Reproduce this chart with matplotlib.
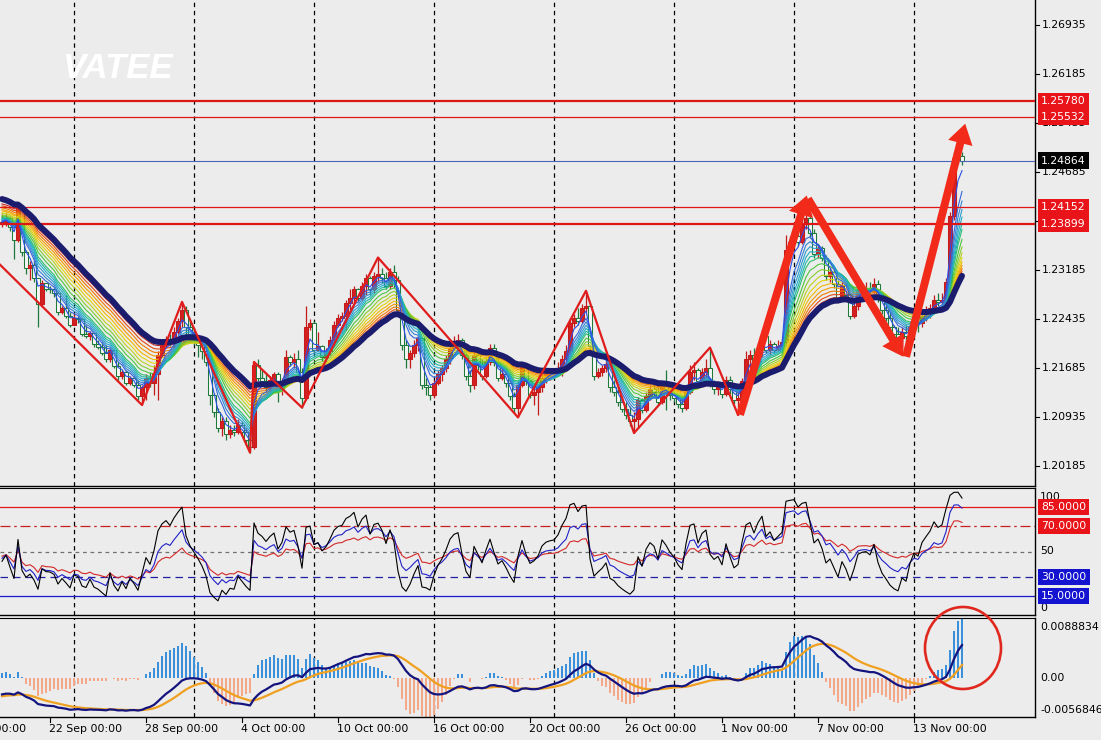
import numpy as np
import matplotlib
matplotlib.use("Agg")
import matplotlib.pyplot as plt
from matplotlib.patches import Ellipse, FancyArrowPatch, ArrowStyle
from matplotlib.lines import Line2D
from matplotlib.transforms import blended_transform_factory

# ---------------- data (H4 candles) ----------------
open_first = 1.2391
close = [
    1.2393, 1.2399, 1.2384, 1.2365, 1.2416, 1.2347, 1.2322, 1.2327, 1.2307, 1.2266,
    1.2299, 1.2290, 1.2289, 1.2283, 1.2255, 1.2261, 1.2249, 1.2234, 1.2246, 1.2243,
    1.2221, 1.2217, 1.2223, 1.2206, 1.2201, 1.2192, 1.2182, 1.2197, 1.2172, 1.2156,
    1.2163, 1.2146, 1.2154, 1.2143, 1.2126, 1.2139, 1.2154, 1.2145, 1.2159, 1.2189,
    1.2204, 1.2212, 1.2208, 1.2224, 1.2240, 1.2258, 1.2232, 1.2220, 1.2212, 1.2204,
    1.2194, 1.2178, 1.2128, 1.2102, 1.2077, 1.2088, 1.2068, 1.2074, 1.2071, 1.2082,
    1.2071, 1.2059, 1.2048, 1.2174, 1.2154, 1.2148, 1.2139, 1.2151, 1.2159, 1.2136,
    1.2148, 1.2185, 1.2178, 1.2182, 1.2163, 1.2123, 1.2232, 1.2237, 1.2197, 1.2203,
    1.2185, 1.2194, 1.2212, 1.2235, 1.2246, 1.2249, 1.2269, 1.2276, 1.2289, 1.2276,
    1.2295, 1.2307, 1.2289, 1.2310, 1.2313, 1.2307, 1.2295, 1.2316, 1.2304, 1.2258,
    1.2204, 1.2182, 1.2191, 1.2204, 1.2215, 1.2143, 1.2139, 1.2128, 1.2146, 1.2160,
    1.2169, 1.2182, 1.2200, 1.2209, 1.2212, 1.2188, 1.2157, 1.2142, 1.2189, 1.2174,
    1.2157, 1.2178, 1.2200, 1.2178, 1.2154, 1.2159, 1.2145, 1.2126, 1.2108, 1.2143,
    1.2174, 1.2148, 1.2128, 1.2132, 1.2139, 1.2154, 1.2160, 1.2162, 1.2163, 1.2169,
    1.2182, 1.2194, 1.2238, 1.2246, 1.2240, 1.2261, 1.2264, 1.2203, 1.2157, 1.2163,
    1.2168, 1.2175, 1.2139, 1.2132, 1.2117, 1.2106, 1.2096, 1.2087, 1.2090, 1.2120,
    1.2105, 1.2126, 1.2136, 1.2132, 1.2117, 1.2142, 1.2136, 1.2128, 1.2123, 1.2114,
    1.2108, 1.2132, 1.2163, 1.2166, 1.2148, 1.2163, 1.2169, 1.2143, 1.2136, 1.2139,
    1.2129, 1.2151, 1.2136, 1.2120, 1.2123, 1.2148, 1.2182, 1.2188, 1.2178, 1.2200,
    1.2218, 1.2197, 1.2206, 1.2197, 1.2203, 1.2209, 1.2350, 1.2362, 1.2371, 1.2362,
    1.2390, 1.2399, 1.2375, 1.2344, 1.2353, 1.2338, 1.2310, 1.2316, 1.2298, 1.2276,
    1.2296, 1.2280, 1.2249, 1.2264, 1.2286, 1.2289, 1.2290, 1.2286, 1.2298, 1.2276,
    1.2258, 1.2246, 1.2231, 1.2221, 1.2215, 1.2224, 1.2218, 1.2231, 1.2240, 1.2237,
    1.2249, 1.2255, 1.2261, 1.2273, 1.2270, 1.2273, 1.2301, 1.2402, 1.2491, 1.2494,
    1.24864,
]
high = [
    1.2404, 1.2408, 1.2402, 1.2390, 1.2422, 1.2419, 1.2350, 1.2332, 1.2332, 1.2307,
    1.2304, 1.2298, 1.2295, 1.2292, 1.2286, 1.2264, 1.2281, 1.2255, 1.2252, 1.2249,
    1.2246, 1.2234, 1.2226, 1.2223, 1.2212, 1.2208, 1.2204, 1.2200, 1.2197, 1.2178,
    1.2166, 1.2165, 1.2157, 1.2156, 1.2151, 1.2142, 1.2159, 1.2163, 1.2174, 1.2194,
    1.2212, 1.2218, 1.2221, 1.2231, 1.2246, 1.2270, 1.2264, 1.2240, 1.2227, 1.2220,
    1.2212, 1.2200, 1.2189, 1.2131, 1.2108, 1.2093, 1.2093, 1.2082, 1.2082, 1.2090,
    1.2087, 1.2077, 1.2065, 1.2178, 1.2182, 1.2166, 1.2159, 1.2156, 1.2163, 1.2163,
    1.2154, 1.2197, 1.2189, 1.2191, 1.2197, 1.2169, 1.2263, 1.2243, 1.2240, 1.2224,
    1.2204, 1.2200, 1.2217, 1.2240, 1.2252, 1.2255, 1.2273, 1.2289, 1.2295, 1.2292,
    1.2301, 1.2312, 1.2310, 1.2316, 1.2338, 1.2322, 1.2316, 1.2322, 1.2326, 1.2310,
    1.2266, 1.2212, 1.2197, 1.2212, 1.2220, 1.2215, 1.2154, 1.2143, 1.2151, 1.2166,
    1.2174, 1.2188, 1.2204, 1.2218, 1.2221, 1.2215, 1.2197, 1.2166, 1.2194, 1.2197,
    1.2182, 1.2185, 1.2206, 1.2206, 1.2185, 1.2169, 1.2163, 1.2148, 1.2132, 1.2148,
    1.2178, 1.2175, 1.2151, 1.2143, 1.2143, 1.2159, 1.2166, 1.2169, 1.2169, 1.2178,
    1.2188, 1.2204, 1.2246, 1.2252, 1.2261, 1.2267, 1.2287, 1.2267, 1.2209, 1.2169,
    1.2174, 1.2182, 1.2178, 1.2151, 1.2139, 1.2126, 1.2117, 1.2111, 1.2102, 1.2125,
    1.2123, 1.2132, 1.2142, 1.2143, 1.2139, 1.2148, 1.2166, 1.2142, 1.2136, 1.2126,
    1.2123, 1.2139, 1.2174, 1.2178, 1.2169, 1.2169, 1.2182, 1.2200, 1.2151, 1.2148,
    1.2143, 1.2157, 1.2156, 1.2143, 1.2132, 1.2154, 1.2194, 1.2197, 1.2200, 1.2204,
    1.2224, 1.2221, 1.2212, 1.2209, 1.2212, 1.2215, 1.2373, 1.2371, 1.2384, 1.2387,
    1.2399, 1.2430, 1.2402, 1.2381, 1.2359, 1.2356, 1.2342, 1.2322, 1.2322, 1.2304,
    1.2301, 1.2301, 1.2283, 1.2273, 1.2292, 1.2298, 1.2301, 1.2301, 1.2307, 1.2304,
    1.2281, 1.2270, 1.2255, 1.2235, 1.2231, 1.2231, 1.2234, 1.2240, 1.2246, 1.2249,
    1.2255, 1.2264, 1.2267, 1.2280, 1.2283, 1.2283, 1.2307, 1.2408, 1.2500, 1.2502,
    1.2500,
]
low = [
    1.2384, 1.2387, 1.2378, 1.2335, 1.2362, 1.2341, 1.2313, 1.2304, 1.2301, 1.2232,
    1.2263, 1.2286, 1.2283, 1.2278, 1.2250, 1.2252, 1.2246, 1.2231, 1.2234, 1.2238,
    1.2217, 1.2214, 1.2211, 1.2201, 1.2198, 1.2189, 1.2178, 1.2178, 1.2168, 1.2151,
    1.2152, 1.2143, 1.2143, 1.2139, 1.2120, 1.2112, 1.2120, 1.2139, 1.2128, 1.2120,
    1.2186, 1.2200, 1.2203, 1.2200, 1.2221, 1.2231, 1.2218, 1.2212, 1.2204, 1.2185,
    1.2182, 1.2172, 1.2112, 1.2094, 1.2071, 1.2064, 1.2059, 1.2062, 1.2064, 1.2068,
    1.2065, 1.2053, 1.2039, 1.2044, 1.2148, 1.2143, 1.2132, 1.2131, 1.2148, 1.2116,
    1.2128, 1.2145, 1.2172, 1.2169, 1.2154, 1.2108, 1.2120, 1.2227, 1.2192, 1.2194,
    1.2180, 1.2178, 1.2189, 1.2204, 1.2231, 1.2240, 1.2227, 1.2258, 1.2267, 1.2270,
    1.2273, 1.2281, 1.2281, 1.2283, 1.2301, 1.2299, 1.2289, 1.2289, 1.2292, 1.2250,
    1.2197, 1.2169, 1.2169, 1.2185, 1.2194, 1.2136, 1.2128, 1.2120, 1.2123, 1.2142,
    1.2148, 1.2163, 1.2175, 1.2197, 1.2200, 1.2182, 1.2151, 1.2132, 1.2136, 1.2166,
    1.2151, 1.2154, 1.2174, 1.2172, 1.2148, 1.2151, 1.2139, 1.2120, 1.2102, 1.2093,
    1.2139, 1.2142, 1.2122, 1.2112, 1.2096, 1.2132, 1.2145, 1.2151, 1.2154, 1.2157,
    1.2157, 1.2174, 1.2188, 1.2231, 1.2234, 1.2237, 1.2255, 1.2197, 1.2151, 1.2154,
    1.2157, 1.2162, 1.2132, 1.2126, 1.2111, 1.2102, 1.2090, 1.2080, 1.2069, 1.2077,
    1.2099, 1.2102, 1.2120, 1.2123, 1.2112, 1.2114, 1.2105, 1.2120, 1.2117, 1.2108,
    1.2102, 1.2105, 1.2129, 1.2151, 1.2143, 1.2145, 1.2143, 1.2139, 1.2129, 1.2128,
    1.2123, 1.2126, 1.2129, 1.2114, 1.2097, 1.2120, 1.2143, 1.2169, 1.2172, 1.2175,
    1.2185, 1.2192, 1.2189, 1.2191, 1.2194, 1.2197, 1.2203, 1.2332, 1.2356, 1.2356,
    1.2359, 1.2381, 1.2368, 1.2338, 1.2338, 1.2332, 1.2304, 1.2301, 1.2292, 1.2270,
    1.2273, 1.2273, 1.2243, 1.2246, 1.2258, 1.2277, 1.2278, 1.2280, 1.2283, 1.2270,
    1.2252, 1.2240, 1.2224, 1.2215, 1.2209, 1.2189, 1.2209, 1.2212, 1.2218, 1.2224,
    1.2231, 1.2240, 1.2246, 1.2255, 1.2264, 1.2266, 1.2270, 1.2289, 1.2396, 1.2482,
    1.2480,
]

# time axis labels (bar index of each label) and weekly separators
x_labels = ["18 Sep 00:00", "22 Sep 00:00", "28 Sep 00:00", "4 Oct 00:00", "10 Oct 00:00",
            "16 Oct 00:00", "20 Oct 00:00", "26 Oct 00:00", "1 Nov 00:00", "7 Nov 00:00",
            "13 Nov 00:00"]
x_label_bars = [-12, 12, 36, 60, 84, 108, 132, 156, 180, 204, 228]
separator_bars = [18, 48, 78, 108, 138, 168, 198, 228]

price_ticks = [1.26935, 1.26185, 1.25435, 1.24685, 1.23935, 1.23185,
               1.22435, 1.21685, 1.20935, 1.20185]
level_prices = [1.25780, 1.25532, 1.24152, 1.23899]
level_thick = [True, False, False, True]
bid_price = 1.24864

zigzag_bars = [-0.5, 35, 45, 62, 63, 75, 94, 129, 146, 158, 177, 184]
zigzag_prices = [1.2327, 1.2112, 1.2270, 1.2039, 1.2178, 1.2108, 1.2338,
                 1.2093, 1.2287, 1.2069, 1.2200, 1.2097]

arrow_tail_bars = [184.5, 201.5, 226.0]
arrow_tail_prices = [1.2097, 1.2428, 1.2186]
arrow_tip_bars = [201.2, 225.3, 240.8]
arrow_tip_prices = [1.2433, 1.2186, 1.2543]

# moving-average ribbon (fast -> slow) with values at the left edge
ribbon_periods = [3, 5, 6, 7, 8, 9, 10, 12, 14, 16, 18, 20, 22, 24, 26, 28]
ribbon_start = [1.2391, 1.2393, 1.2394, 1.2396, 1.2397, 1.2399, 1.2400, 1.2402,
                1.2404, 1.2407, 1.2408, 1.2411, 1.2413, 1.2416, 1.2419, 1.2422]
ribbon_colors = ['#2a4fe6', '#3468dc', '#3386d4', '#2a9ed0', '#22aec8', '#1fb8a6',
                 '#2cbf6c', '#4ac63c', '#86cc2c', '#bcd11e', '#e2d20e', '#f2b800',
                 '#f29a00', '#f07a00', '#e24a16', '#c82a22']
slow_period = 30
slow_start = 1.2430

# oscillator (RSI 6/12/24) levels and seeds
rsi_periods = [6, 12, 24]
rsi_colors = ['#000000', '#2020c8', '#d42828']
rsi_seed_gain = [0.00055, 0.00050, 0.00050]
rsi_seed_loss = [0.00075, 0.00062, 0.00058]
osc_levels = [85, 70, 50, 30, 15]

# MACD
macd_fast, macd_slow, macd_sig = 12, 26, 9
macd_fast_start, macd_slow_start, macd_sig_start = 1.2410, 1.2434, -0.0027
macd_min, macd_max = -0.0056846, 0.0088834
hist_scale = 3.0

# ---------------- helpers ----------------
def ema(values, period, start):
    a = 2.0 / (period + 1)
    out, e = [], start
    for v in values:
        e = e + a * (v - e)
        out.append(e)
    return np.array(out)

def wilder_rsi(values, n, g0, l0):
    out = [100 * g0 / (g0 + l0)]
    g, l = g0, l0
    for k in range(1, len(values)):
        d = values[k] - values[k - 1]
        g = g + (max(d, 0) - g) / n
        l = l + (max(-d, 0) - l) / n
        out.append(100 * g / (g + l))
    return np.array(out)

c = np.array(close)
o = np.array([open_first] + close[:-1])
h = np.array(high)
lo = np.array(low)
idx = np.arange(len(c))

W, H = 1101, 740
BG = '#ececec'
FS = 7.8
fig = plt.figure(figsize=(W / 100, H / 100), dpi=100)
fig.patch.set_facecolor(BG)

def fy(py):
    return 1 - py / H

PLOT_R = 1035
ax = fig.add_axes([0, fy(486), PLOT_R / W, 486 / H])
ax2 = fig.add_axes([0, fy(615), PLOT_R / W, (615 - 488) / H])
ax3 = fig.add_axes([0, fy(717), PLOT_R / W, (717 - 618) / H])

xl = (-0.5, (PLOT_R - 2) / 4.0)
for a in (ax, ax2, ax3):
    a.set_facecolor(BG)
    a.set_xlim(*xl)
    a.set_xticks([])
    a.set_yticks([])
    for s in ('top', 'left'):
        a.spines[s].set_visible(False)
    a.spines['right'].set_color('black')
    a.spines['bottom'].set_color('black')
    a.spines['right'].set_linewidth(1.0)
    a.spines['bottom'].set_linewidth(1.0)
    for b in separator_bars:
        a.axvline(b, color='black', lw=0.9, ls=(0, (3.5, 3)), zorder=1)
for a in (ax2, ax3):
    a.spines['top'].set_visible(True)
    a.spines['top'].set_color('black')

ax.set_ylim(1.198787, 1.273257)
ax2.set_ylim(0, 100)
ax3.set_ylim(macd_min, macd_max)

# watermark
ax.text(117 / PLOT_R, 1 - 69 / 486, 'VATEE', transform=ax.transAxes, ha='center', va='center',
        fontsize=25, fontweight='heavy', fontstyle='italic', family='Liberation Sans',
        color='white', zorder=1)

# candles
bull = c >= o
edge = np.where(bull, '#c41a1a', '#1f7a3a')
face = np.where(bull, '#d42020', '#f6f6f6')
ax.vlines(idx, lo, h, colors=edge, lw=0.9, zorder=2)
body_lo = np.minimum(o, c)
body_h = np.maximum(np.abs(c - o), 0.00005)
ax.bar(idx, body_h, bottom=body_lo, width=0.76, color=face, edgecolor=edge,
       linewidth=0.75, zorder=3)

# ribbon and slow MA
for per, st, col in zip(ribbon_periods[::-1], ribbon_start[::-1], ribbon_colors[::-1]):
    ax.plot(idx, ema(c, per, st), color=col, lw=0.8, zorder=4)
ax.plot(idx, ema(c, slow_period, slow_start), color='#1c1c6e', lw=4.3,
        solid_capstyle='round', zorder=5)

# horizontal levels
for p, thick in zip(level_prices, level_thick):
    ax.axhline(p, color='#dd1616', lw=1.6 if thick else 0.9, zorder=4)
ax.axhline(bid_price, color='#4a66b8', lw=0.8, zorder=4)

# zigzag
ax.plot(zigzag_bars, zigzag_prices, color='#e01c1c', lw=1.6, zorder=6)

# arrows
style = ArrowStyle('Simple', head_length=0.75, head_width=0.95, tail_width=0.3)
for tb, tp, hb, hp in zip(arrow_tail_bars, arrow_tail_prices, arrow_tip_bars, arrow_tip_prices):
    ax.add_patch(FancyArrowPatch((tb, tp), (hb, hp), arrowstyle=style, mutation_scale=19,
                                 color='#f22a1a', lw=0, shrinkA=0, shrinkB=0, zorder=7))

# right-axis text for main panel
tr = blended_transform_factory(ax.transAxes, ax.transData)
def axfrac(px):
    return px / PLOT_R
for p in price_ticks:
    ax.text(axfrac(1042), p, f'{p:.5f}', transform=tr, ha='left', va='center',
            fontsize=FS, color='black', clip_on=False, zorder=8)
    ax.plot([1.0, axfrac(1039)], [p, p], transform=tr, color='black', lw=0.8, clip_on=False)

def box(a, trans, y, text, fc):
    a.text(axfrac(1041), y, text, transform=trans, ha='left', va='center', fontsize=FS,
           color='white', clip_on=False, zorder=10,
           bbox=dict(boxstyle='square,pad=0.3', fc=fc, ec='none'))

for p in level_prices:
    box(ax, tr, p, f'{p:.5f}', '#e8141a')
box(ax, tr, bid_price, f'{bid_price:.5f}', '#000000')

# ---------------- oscillator panel ----------------
for per, g0, l0, col in zip(rsi_periods[::-1], rsi_seed_gain[::-1], rsi_seed_loss[::-1], rsi_colors[::-1]):
    ax2.plot(idx, wilder_rsi(c, per, g0, l0), color=col, lw=0.8, zorder=4)
lvl_style = {85: ('#e01818', '-'), 70: ('#c82020', (0, (8, 3, 2, 3))),
             50: ('#707070', (0, (3, 3))), 30: ('#2020a0', (0, (6, 4))),
             15: ('#1818c8', '-')}
for lv in osc_levels:
    col, ls = lvl_style[lv]
    ax2.axhline(lv, color=col, ls=ls, lw=0.9, zorder=2)
tr2 = blended_transform_factory(ax2.transAxes, ax2.transData)
for val, txt in ((93, '100'), (50, '50'), (5.5, '0')):
    ax2.text(axfrac(1040), val, txt, transform=tr2, ha='left', va='center', fontsize=FS,
             clip_on=False)
box(ax2, tr2, 85, '85.0000', '#e8141a')
box(ax2, tr2, 70, '70.0000', '#e8141a')
box(ax2, tr2, 30, '30.0000', '#1414d0')
box(ax2, tr2, 15, '15.0000', '#1414d0')

# ---------------- MACD panel ----------------
dif = ema(c, macd_fast, macd_fast_start) - ema(c, macd_slow, macd_slow_start)
dea = ema(dif, macd_sig, macd_sig_start)
hist = hist_scale * (dif - dea)
ax3.bar(idx, hist, width=0.72, color=np.where(hist >= 0, '#3a90da', '#f4a888'), zorder=2)
ax3.plot(idx, dea, color='#f0a020', lw=1.6, zorder=3)
ax3.plot(idx, dif, color='#14147e', lw=1.6, zorder=4)
tr3 = blended_transform_factory(ax3.transAxes, ax3.transData)
for val, txt in ((0.00756, '0.0088834'), (0.0, '0.00'), (-0.00465, '-0.0056846')):
    ax3.text(axfrac(1040), val, txt, transform=tr3, ha='left', va='center', fontsize=FS,
             clip_on=False)

# red circle highlight
fig.add_artist(Ellipse((963 / W, fy(648)), 76 / W, 82 / H, transform=fig.transFigure,
                       fill=False, ec='#e0281e', lw=1.9, zorder=20))

# ---------------- time axis ----------------
for b, lab in zip(x_label_bars, x_labels):
    px = 2 + 4 * b
    fig.text((px - 1) / W, fy(729), lab, ha='left', va='center', fontsize=FS, color='black')
    if px > 0:
        fig.add_artist(Line2D([px / W, px / W], [fy(717), fy(722)], transform=fig.transFigure,
                              color='black', lw=0.8))

fig.savefig('out.png', dpi=100, facecolor=BG)
